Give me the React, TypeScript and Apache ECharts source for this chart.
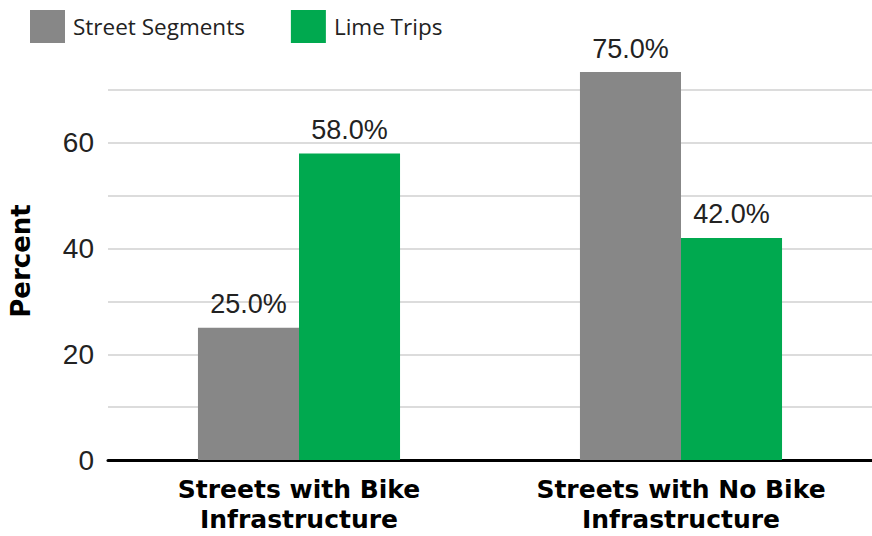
import React, { useEffect, useRef } from "react";
import * as echarts from "echarts";

const categories = ["Streets with Bike\nInfrastructure", "Streets with No Bike\nInfrastructure"];
const streetSegments = [25, 75];
const limeTrips = [58, 42];
const yTickLabels = [0, 20, 40, 60];

export default function App() {
  const ref = useRef<HTMLDivElement>(null);
  useEffect(() => {
    if (!ref.current) return;
    const chart = echarts.init(ref.current, null, { renderer: "svg" });
    const valueLabel = {
      show: true,
      position: "top",
      distance: 10,
      color: "#222",
      fontSize: 27,
      fontFamily: "Liberation Sans, Arial, sans-serif",
      formatter: (p: any) => Number(p.value).toFixed(1) + "%",
    };
    chart.setOption({
      animation: false,
      backgroundColor: "#fff",
      legend: {
        left: 25,
        top: 5,
        itemWidth: 35,
        itemHeight: 33,
        itemGap: 46,
        icon: "rect",
        textStyle: { fontSize: 22.5, color: "#222", fontFamily: "Open Sans, sans-serif", padding: [0, 0, 0, 3] },
        data: ["Street Segments", "Lime Trips"],
      },
      grid: { left: 108, right: 0, top: 72, bottom: 76, containLabel: false },
      xAxis: {
        type: "category",
        data: categories,
        axisLine: { show: true, lineStyle: { color: "#000", width: 3 } },
        axisTick: { show: false },
        axisLabel: {
          interval: 0,
          margin: 14,
          fontSize: 25,
          fontWeight: "bold",
          lineHeight: 30,
          color: "#000",
          fontFamily: "DejaVu Sans, sans-serif",
        },
      },
      yAxis: {
        type: "value",
        min: 0,
        max: 73.4,
        interval: 10,
        name: "Percent",
        nameLocation: "middle",
        nameRotate: 90,
        nameGap: 74,
        nameTextStyle: { fontSize: 26, fontWeight: "bold", color: "#000", fontFamily: "DejaVu Sans, sans-serif", padding: [0, 0, 0, 10] },
        axisLine: { show: false },
        axisTick: { show: false },
        splitLine: { show: true, showMaxLine: false, lineStyle: { color: "#d0d0d0", width: 1.5 } },
        axisLabel: {
          showMaxLabel: false,
          margin: 14,
          fontSize: 28,
          color: "#222",
          fontFamily: "Liberation Sans, Arial, sans-serif",
          formatter: (v: number) => (yTickLabels.includes(v) ? String(v) : ""),
        },
      },
      series: [
        {
          name: "Street Segments",
          type: "bar",
          data: streetSegments,
          barGap: "0%",
          barCategoryGap: "47.1%",
          clip: true,
          itemStyle: { color: "#878787" },
          label: valueLabel,
        },
        {
          name: "Lime Trips",
          type: "bar",
          data: limeTrips,
          barGap: "0%",
          barCategoryGap: "47.1%",
          clip: true,
          itemStyle: { color: "#00A94F" },
          label: valueLabel,
        },
      ],
    });
    return () => chart.dispose();
  }, []);
  return <div ref={ref} style={{ width: 872, height: 536, position: "fixed", left: 0, top: 0 }} />;
}
